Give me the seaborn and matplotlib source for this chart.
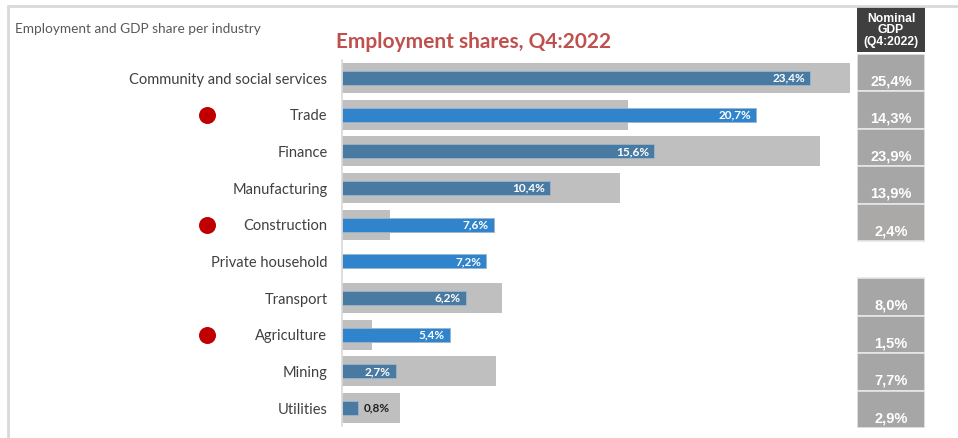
import matplotlib
matplotlib.use("Agg")
import matplotlib.pyplot as plt
import matplotlib.transforms as mtransforms
from matplotlib.lines import Line2D
import seaborn as sns
import pandas as pd

industries = ["Community and social services", "Trade", "Finance", "Manufacturing",
              "Construction", "Private household", "Transport", "Agriculture",
              "Mining", "Utilities"]
employment_share = [23.4, 20.7, 15.6, 10.4, 7.6, 7.2, 6.2, 5.4, 2.7, 0.8]
gdp_share = [25.4, 14.3, 23.9, 13.9, 2.4, 0.0, 8.0, 1.5, 7.7, 2.9]
flagged = ["Trade", "Construction", "Agriculture"]

sns.set_theme(style="white")
plt.rcParams["font.family"] = ["Lato", "DejaVu Sans"]

df = pd.DataFrame({"industry": industries, "emp": employment_share, "gdp": gdp_share})
df["status"] = ["above" if e > g else "below" for e, g in zip(df["emp"], df["gdp"])]

W, H = 958, 438
fig = plt.figure(figsize=(W / 100, H / 100), dpi=100)

def px_axes(x0, y0, x1, y1):
    return fig.add_axes([x0 / W, 1 - y1 / H, (x1 - x0) / W, (y1 - y0) / H])

# outer frame
fig.add_artist(Line2D([8 / W, 1], [1 - 6 / H, 1 - 6 / H], color="#d9d9d9", lw=2,
                      transform=fig.transFigure))
fig.add_artist(Line2D([8 / W, 8 / W], [0, 1 - 6 / H], color="#d9d9d9", lw=2,
                      transform=fig.transFigure))

# main bar panel
ax = px_axes(342, 59.7, 857, 426.4)
sns.barplot(data=df, x="gdp", y="industry", order=industries, color="#c0bfc0",
            width=0.82, linewidth=0, saturation=1, ax=ax)
sns.barplot(data=df, x="emp", y="industry", order=industries, hue="status",
            hue_order=["below", "above"],
            palette={"below": "#497aa1", "above": "#2f84cc"},
            dodge=False, width=0.38, linewidth=0.6, edgecolor="#9bb4cc",
            saturation=1, legend=False, ax=ax)
ax.set_xlim(0, 25.75)
ax.set_ylim(9.5, -0.5)
for s in ["top", "right", "bottom"]:
    ax.spines[s].set_visible(False)
ax.spines["left"].set_color("#d9d9d9")
ax.spines["left"].set_linewidth(1.2)
ax.set_xticks([])
ax.set_xlabel("")
ax.set_ylabel("")
ax.tick_params(axis="y", length=0, pad=10.5, labelsize=10.5, labelcolor="#404040")

for i, v in enumerate(employment_share):
    label = f"{v:.1f}".replace(".", ",") + "%"
    if v >= 2:
        ax.text(v - 0.25, i, label, ha="right", va="center", color="white",
                fontsize=8.5, fontweight="bold")
    else:
        ax.text(v + 0.3, i, label, ha="left", va="center", color="#202020",
                fontsize=8.5, fontweight="bold")

# red markers next to flagged industries
blend = mtransforms.blended_transform_factory(fig.transFigure, ax.transData)
flag_y = [industries.index(n) for n in flagged]
ax.scatter([207 / W] * len(flag_y), flag_y, s=150, color="#c00000",
           transform=blend, clip_on=False, zorder=5, linewidths=0)

# nominal GDP column
ax2 = px_axes(857, 54, 925, 428)
cell_colors = ["#aba8a8" if n == "Construction" else "#a6a6a6" for n in industries]
for i, (g, c) in enumerate(zip(gdp_share, cell_colors)):
    if g <= 0:
        continue
    ax2.barh(i, 1, height=1, left=0, color=c, edgecolor="#e8e8e8", linewidth=1.2)
    ax2.text(0.5, i + 0.42, f"{g:.1f}".replace(".", ",") + "%", ha="center",
             va="bottom", color="white", fontsize=10.5, fontweight="bold",
             family=["Liberation Sans"])
ax2.set_xlim(0, 1)
ax2.set_ylim(9.5, -0.5)
ax2.axis("off")

hdr = px_axes(857, 7, 925, 52)
hdr.set_facecolor("#3f3f3f")
hdr.set_xticks([])
hdr.set_yticks([])
for s in hdr.spines.values():
    s.set_visible(False)
hdr.text(0.5, 0.48, "Nominal\nGDP\n(Q4:2022)", ha="center", va="center",
         color="white", fontsize=8.7, fontweight="bold", linespacing=0.95,
         family=["Liberation Sans"], transform=hdr.transAxes)

fig.text(15 / W, 1 - 29 / H, "Employment and GDP share per industry", ha="left",
         va="center", fontsize=9.8, color="#595959")
fig.text(474 / W, 1 - 42 / H, "Employment shares, Q4:2022", ha="center",
         va="center", fontsize=15, fontweight="bold", color="#c0504d")

fig.savefig("out.png", dpi=100)
